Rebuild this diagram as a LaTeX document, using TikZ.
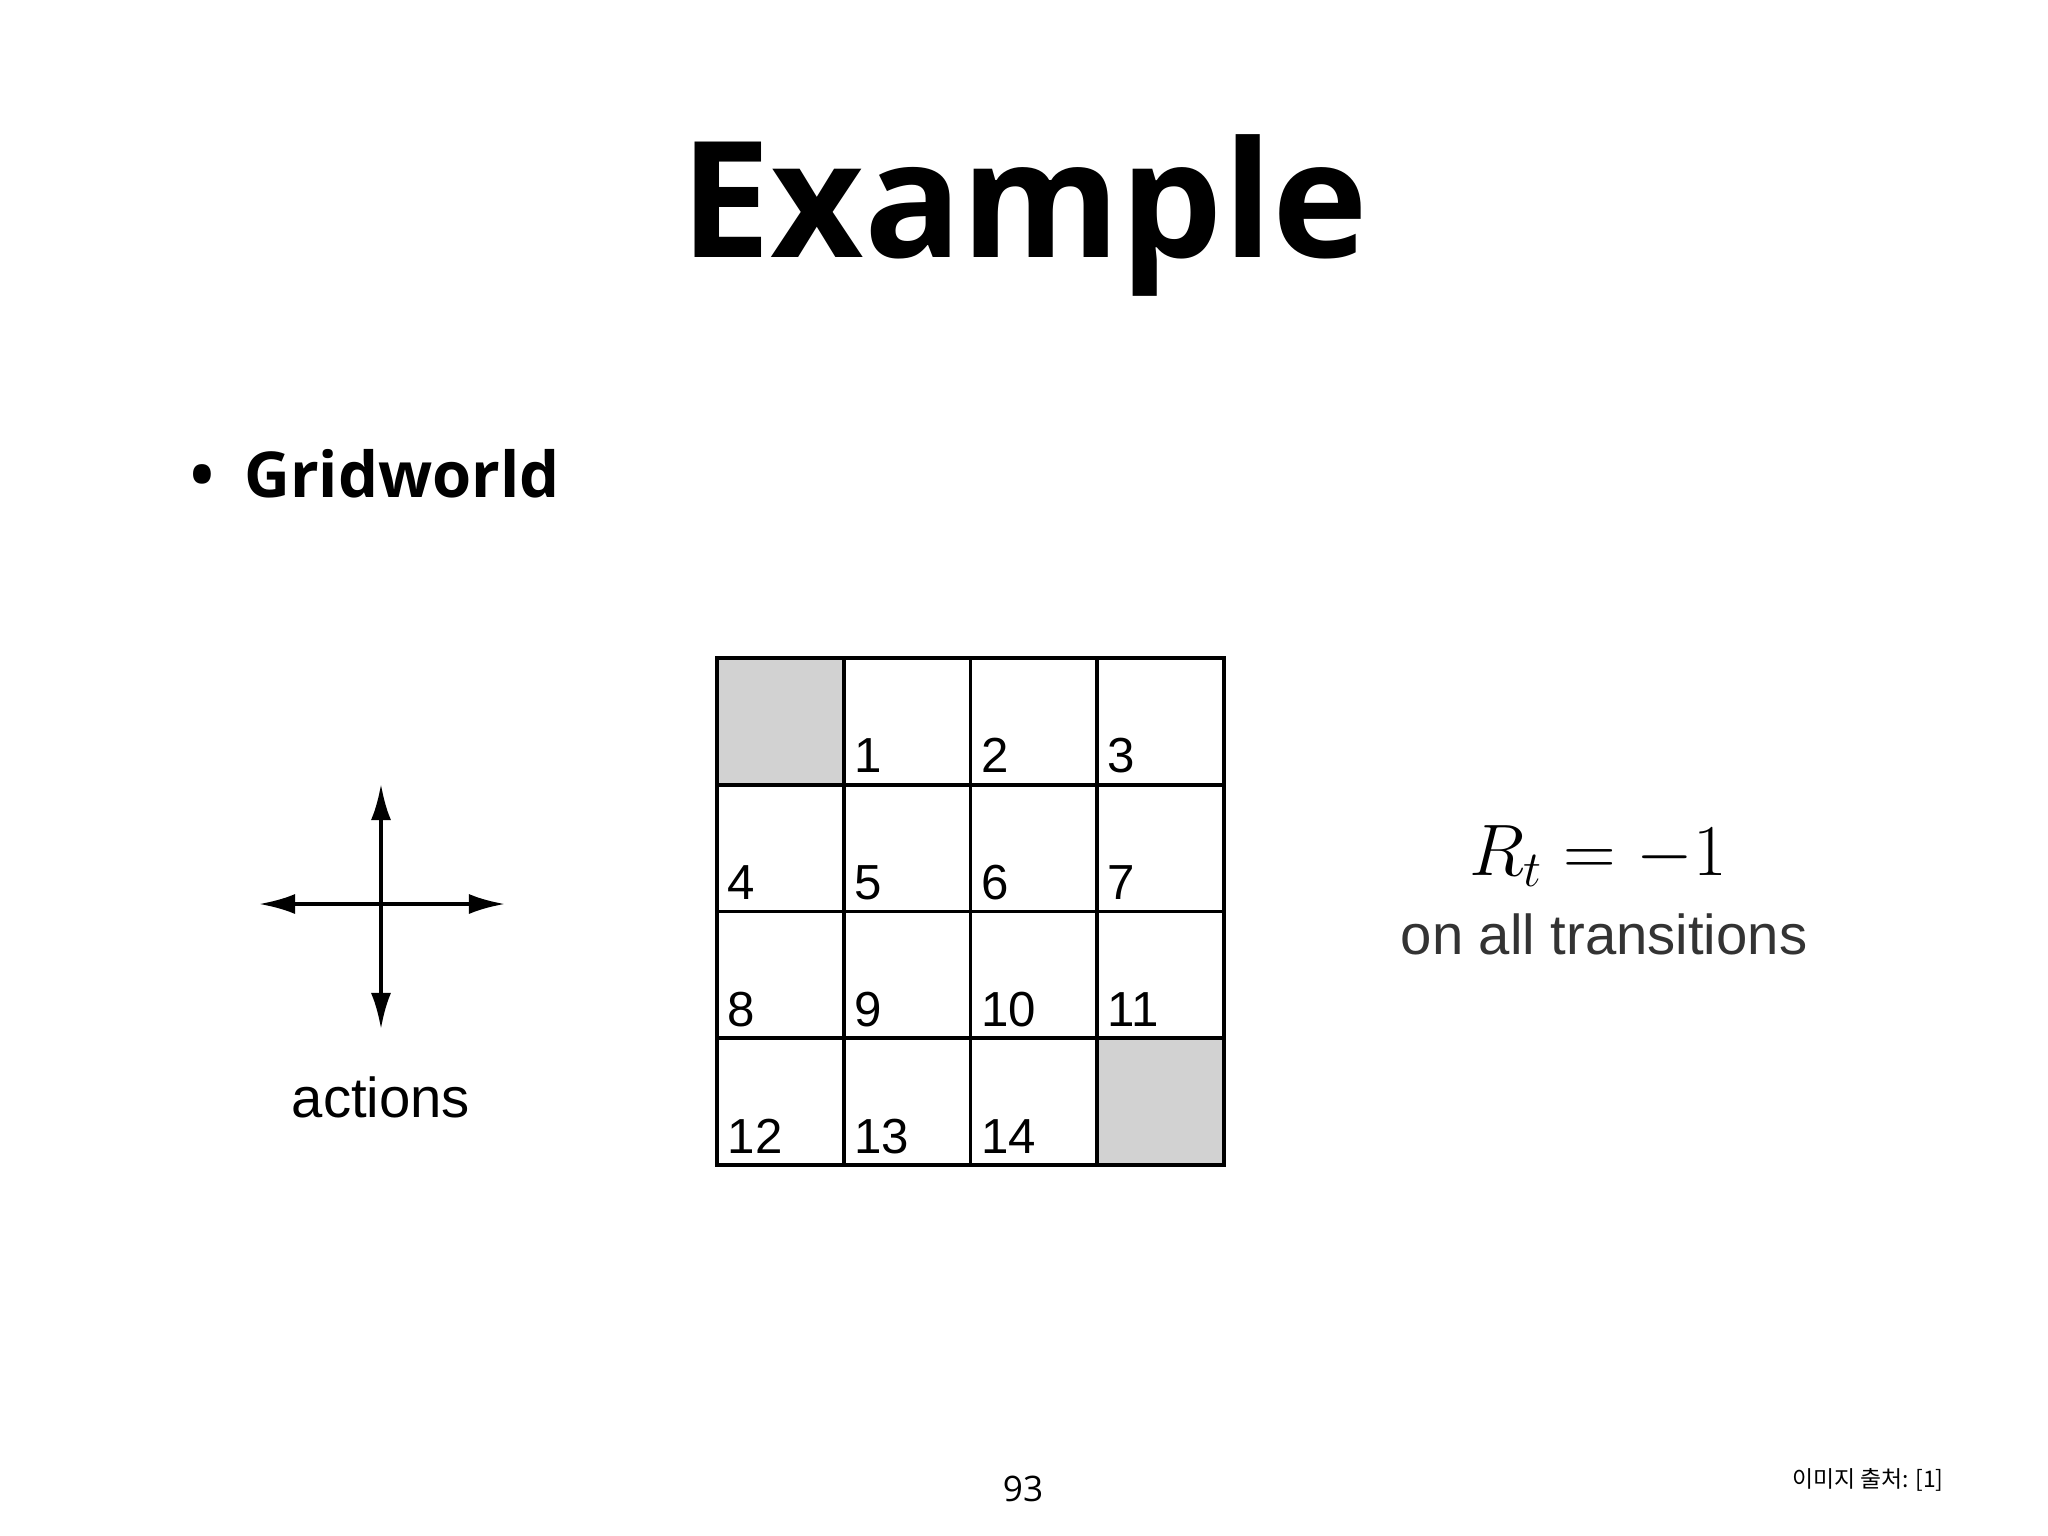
\documentclass[tikz,border=0pt]{standalone}
\usepackage{fontspec}
\setmainfont{Open Sans}
\newfontfamily\helv{Liberation Sans}
\newfontfamily\kor{Noto Sans CJK KR}
\usetikzlibrary{arrows.meta}
\begin{document}
\begin{tikzpicture}[x={(0.01cm,0)},y={(0,-0.01cm)},
  cellnum/.style={anchor=base west,font=\helv\fontsize{14}{14}\selectfont,inner sep=0pt},
  gline/.style={line width=1.1pt},
  act/.style={line width=1.1pt,-{Latex[length=0.36cm,width=0.2cm]}}]
\useasboundingbox (0,0) rectangle (2048,1536);
\node (title) at (1024,215) {\fontsize{46}{46}\selectfont\bfseries Example};
\node[anchor=west] (bul) at (178,474) {\fontsize{18}{18}\selectfont\bfseries\textbullet\hspace{0.3cm}Gridworld};
% grid
\def\gx{717}\def\gy{658}\def\cs{126.75}
\fill[gray!35] (\gx,\gy) rectangle ++(\cs,\cs);
\fill[gray!35] (\gx+3*\cs,\gy+3*\cs) rectangle ++(\cs,\cs);
\foreach \i in {1,2,3} {
  \draw[gline] (\gx+\i*\cs,\gy) -- (\gx+\i*\cs,\gy+4*\cs);
  \draw[gline] (\gx,\gy+\i*\cs) -- (\gx+4*\cs,\gy+\i*\cs);
}
\draw[line width=1.4pt] (\gx,\gy) rectangle (\gx+4*\cs,\gy+4*\cs);
\foreach \n in {1,...,14} {
  \pgfmathtruncatemacro{\c}{mod(\n,4)}
  \pgfmathtruncatemacro{\r}{int(\n/4)}
  \node[cellnum] (c\n) at (\gx+\c*\cs+10,\gy+\r*\cs+\cs-12) {\n};
}
% actions
\coordinate (ac) at (381,904);
\coordinate (aL) at (259,904);
\coordinate (aR) at (505,904);
\coordinate (aU) at (381,784);
\coordinate (aD) at (381,1029);
\draw[act] (ac) -- (aL);
\draw[act] (ac) -- (aR);
\draw[act] (ac) -- (aU);
\draw[act] (ac) -- (aD);
\node (actions) at (381,1097) {\helv\fontsize{16}{16}\selectfont actions};
\node (rt) at (1598,856) {\fontsize{20}{20}\selectfont $R_t = -1$};
\node (trans) at (1604,934) {\helv\fontsize{16}{16}\selectfont\color{black!80} on all transitions};
\node (pg) at (1023,1489) {\fontsize{10}{10}\selectfont 93};
\node[anchor=east] (src) at (1956,1480) {\kor\fontsize{6.5}{6.5}\selectfont 이미지 출처: [1]};
\end{tikzpicture}
\end{document}
